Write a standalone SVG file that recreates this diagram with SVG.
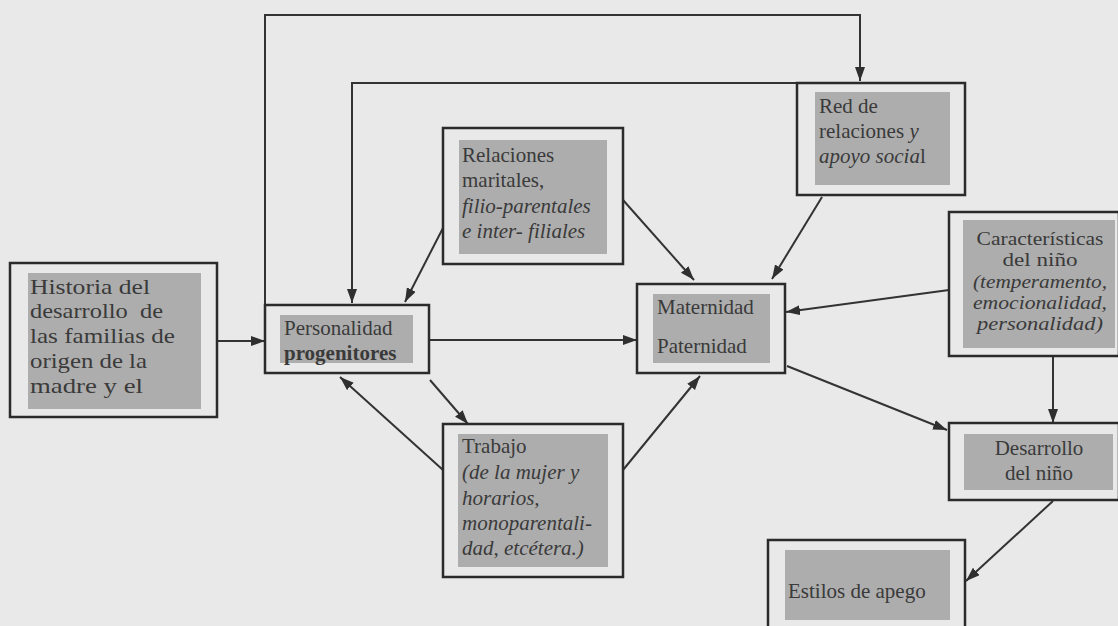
<svg xmlns="http://www.w3.org/2000/svg" width="1118" height="626" viewBox="0 0 1118 626">
<style>
.bg{fill:#e9e9e9}
.box{fill:none;stroke:#2b2b2b;stroke-width:2.5}
.fl{fill:#adadad}
.t{font-family:"Liberation Serif","Times New Roman",serif;font-size:21px;fill:#3a3a3a}
.s{font-size:19px}
.i{font-style:italic}
.b{font-weight:bold}
.c{text-anchor:middle}
.e{stroke:#333;stroke-width:2;fill:none;marker-end:url(#ah)}
</style>
<defs>
<marker id="ah" markerUnits="userSpaceOnUse" markerWidth="15" markerHeight="11" refX="14" refY="5" orient="auto">
<path d="M0,0 L14,5 L0,10 z" fill="#2f2f2f"/>
</marker>
</defs>
<rect class="bg" x="0" y="0" width="1118" height="626"/>

<g id="connectors">
<line class="e" x1="217" y1="341" x2="265" y2="341"/>
<polyline class="e" points="265,305 265,15 860,15 860,81"/>
<polyline class="e" points="797,83 352,83 352,303"/>
<line class="e" x1="443" y1="228" x2="405" y2="302"/>
<line class="e" x1="623" y1="200" x2="694" y2="280"/>
<line class="e" x1="822" y1="197" x2="772" y2="279"/>
<line class="e" x1="429" y1="340" x2="637" y2="340"/>
<line class="e" x1="949" y1="290" x2="786" y2="312"/>
<line class="e" x1="430" y1="380" x2="468" y2="424"/>
<line class="e" x1="443" y1="470" x2="340" y2="377"/>
<line class="e" x1="623" y1="470" x2="700" y2="376"/>
<line class="e" x1="787" y1="366" x2="947" y2="430"/>
<line class="e" x1="1053" y1="356" x2="1053" y2="423"/>
<line class="e" x1="1053" y1="501" x2="966" y2="581"/>
</g>

<g id="historia">
<rect class="fl" x="28" y="273" width="173" height="136"/>
<rect class="box" x="10" y="263" width="207" height="154"/>
<text class="t" x="30" y="294" textLength="120" lengthAdjust="spacingAndGlyphs">Historia del</text>
<text class="t" x="30" y="318" textLength="133" lengthAdjust="spacingAndGlyphs" xml:space="preserve">desarrollo  de</text>
<text class="t" x="30" y="343" textLength="145" lengthAdjust="spacingAndGlyphs">las familias de</text>
<text class="t" x="30" y="368" textLength="117" lengthAdjust="spacingAndGlyphs">origen de la</text>
<text class="t" x="30" y="393" textLength="113" lengthAdjust="spacingAndGlyphs">madre y el</text>
</g>

<g id="personalidad">
<rect class="fl" x="280" y="315" width="133" height="48"/>
<rect class="box" x="265" y="305" width="164" height="68"/>
<text class="t" x="284" y="335">Personalidad</text>
<text class="t b" x="284" y="360" font-size="19">progenitores</text>
</g>

<g id="relaciones">
<rect class="fl" x="459" y="140" width="148" height="114"/>
<rect class="box" x="443" y="128" width="180" height="136"/>
<text class="t" x="462" y="162">Relaciones</text>
<text class="t" x="462" y="187">maritales,</text>
<text class="t i" x="462" y="213">filio-parentales</text>
<text class="t i" x="462" y="238">e inter- filiales</text>
</g>

<g id="red">
<rect class="fl" x="815" y="92" width="135" height="93"/>
<rect class="box" x="797" y="83" width="168" height="112"/>
<text class="t" x="819" y="113">Red de</text>
<text class="t" x="819" y="138">relaciones <tspan class="i">y</tspan></text>
<text class="t" x="819" y="163"><tspan class="i">apoyo socia</tspan>l</text>
</g>

<g id="maternidad">
<rect class="fl" x="653" y="294" width="117" height="69"/>
<rect class="box" x="637" y="284" width="148" height="89"/>
<text class="t" x="657" y="314">Maternidad</text>
<text class="t" x="657" y="353">Paternidad</text>
</g>

<g id="caracteristicas">
<rect class="fl" x="963" y="220" width="152" height="128"/>
<rect class="box" x="949" y="212" width="170" height="144"/>
<text class="t s c" x="1040" y="245" textLength="127" lengthAdjust="spacingAndGlyphs">Características</text>
<text class="t s c" x="1040" y="266" textLength="75" lengthAdjust="spacingAndGlyphs">del niño</text>
<text class="t s c i" x="1040" y="288" textLength="134" lengthAdjust="spacingAndGlyphs">(temperamento,</text>
<text class="t s c i" x="1040" y="309" textLength="134" lengthAdjust="spacingAndGlyphs">emocionalidad,</text>
<text class="t s c i" x="1040" y="330" textLength="126" lengthAdjust="spacingAndGlyphs">personalidad)</text>
</g>

<g id="trabajo">
<rect class="fl" x="458" y="434" width="150" height="133"/>
<rect class="box" x="443" y="424" width="180" height="153"/>
<text class="t" x="462" y="453">Trabajo</text>
<text class="t i" x="462" y="479">(de la mujer y</text>
<text class="t i" x="462" y="505">horarios,</text>
<text class="t i" x="462" y="530">monoparentali-</text>
<text class="t i" x="462" y="555">dad, etcétera.)</text>
</g>

<g id="desarrollo">
<rect class="fl" x="964" y="434" width="149" height="56"/>
<rect class="box" x="949" y="423" width="170" height="77"/>
<text class="t c" x="1039" y="455">Desarrollo</text>
<text class="t c" x="1039" y="480">del niño</text>
</g>

<g id="estilos">
<rect class="fl" x="785" y="550" width="165" height="70"/>
<rect class="box" x="768" y="540" width="197" height="100"/>
<text class="t" x="788" y="598">Estilos de apego</text>
</g>
</svg>
